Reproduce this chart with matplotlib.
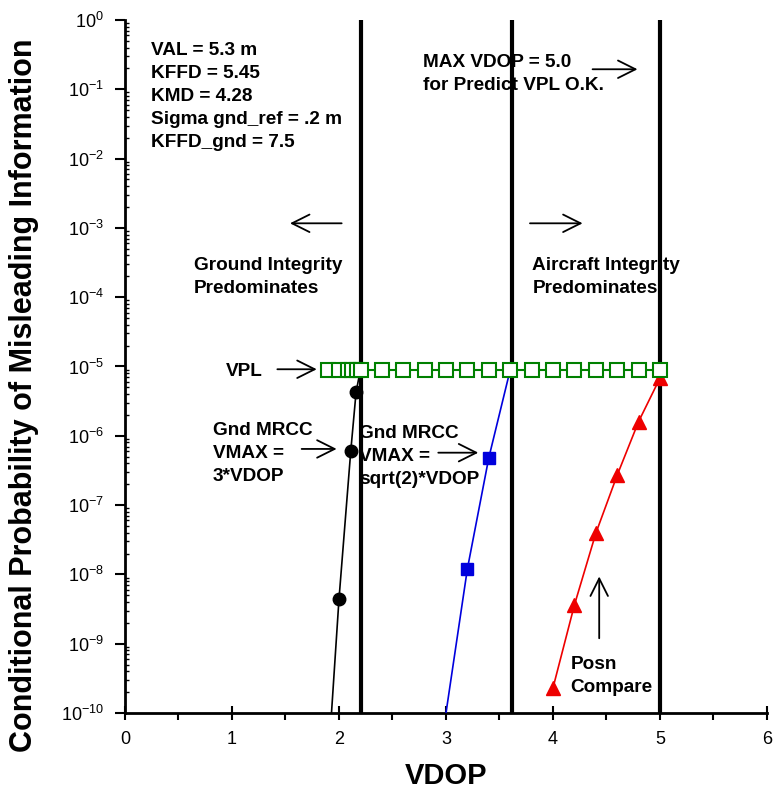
import numpy as np
import matplotlib
matplotlib.use("Agg")
import matplotlib.pyplot as plt
from matplotlib.ticker import LogLocator, MultipleLocator

# data
vpl_x = [1.9, 2.0, 2.08, 2.12, 2.17, 2.21, 2.4, 2.6, 2.8, 3.0, 3.2, 3.4,
         3.6, 3.8, 4.0, 4.2, 4.4, 4.6, 4.8, 5.0]
vpl_y = [8.9e-6] * len(vpl_x)

gnd3_line_x = [1.93, 2.0, 2.11, 2.16, 2.2]
gnd3_line_y = [1e-10, 4.4e-9, 6.0e-7, 4.3e-6, 8.9e-6]
gnd3_x = [2.0, 2.11, 2.16]
gnd3_y = [4.4e-9, 6.0e-7, 4.3e-6]

gnds2_line_x = [3.0, 3.2, 3.4, 3.6]
gnds2_line_y = [1e-10, 1.2e-8, 4.8e-7, 8.9e-6]
gnds2_x = [3.2, 3.4]
gnds2_y = [1.2e-8, 4.8e-7]

posn_x = [4.0, 4.2, 4.4, 4.6, 4.8, 5.0]
posn_y = [2.3e-10, 3.6e-9, 3.9e-8, 2.7e-7, 1.6e-6, 6.8e-6]

vlines_x = [2.21, 3.62, 5.0]

params_text = ("VAL = 5.3 m\nKFFD = 5.45\nKMD = 4.28\n"
               "Sigma gnd_ref = .2 m\nKFFD_gnd = 7.5")

bold = dict(family=["Liberation Sans", "DejaVu Sans"], fontweight="bold",
            fontsize=13.7, linespacing=1.47)
narrow = ["Liberation Sans Narrow", "Liberation Sans", "DejaVu Sans"]

fig = plt.figure(figsize=(7.73, 7.9), dpi=100)
ax = fig.add_axes([0.1617, 0.0975, 0.8305, 0.8772])

ax.set_yscale("log")
ax.set_xlim(0, 6)
ax.set_ylim(1e-10, 1)

for xv in vlines_x:
    ax.axvline(xv, color="black", lw=3, zorder=2)

ax.plot(vpl_x, vpl_y, color="green", lw=1.5, marker="s", ms=9.5,
        mfc="white", mec="green", mew=1.5, zorder=4)
ax.plot(gnd3_line_x, gnd3_line_y, color="black", lw=1.2, zorder=3)
ax.plot(gnd3_x, gnd3_y, ls="none", marker="o", ms=9, color="black", zorder=3)
ax.plot(gnds2_line_x, gnds2_line_y, color="#0000dd", lw=1.2, zorder=3)
ax.plot(gnds2_x, gnds2_y, ls="none", marker="s", ms=9, color="#0000dd",
        zorder=3)
ax.plot(posn_x, posn_y, color="#ee0000", lw=1.2, marker="^", ms=10,
        zorder=3)

# annotations
ax.text(0.243, 10 ** -0.317, params_text, ha="left", va="top", **bold)
ax.text(2.785, 10 ** -0.49, "MAX VDOP = 5.0\nfor Predict VPL O.K.",
        ha="left", va="top", **bold)
ax.text(0.645, 10 ** -3.424, "Ground Integrity\nPredominates",
        ha="left", va="top", **bold)
ax.text(3.807, 10 ** -3.424, "Aircraft Integrity\nPredominates",
        ha="left", va="top", **bold)
ax.text(0.941, 10 ** -4.954, "VPL", ha="left", va="top", **bold)
ax.text(0.82, 10 ** -5.797, "Gnd MRCC\nVMAX =\n3*VDOP",
        ha="left", va="top", **bold)
ax.text(2.19, 10 ** -5.844, "Gnd MRCC\nVMAX =\nsqrt(2)*VDOP",
        ha="left", va="top", **bold)
ax.text(4.165, 10 ** -9.177, "Posn\nCompare", ha="left", va="top", **bold)

arrow = dict(arrowstyle="->,head_length=0.7,head_width=0.35", lw=1.3,
             color="black", shrinkA=0, shrinkB=0, mutation_scale=18)
arrows = [
    ((4.37, 10 ** -0.711), (4.79, 10 ** -0.711)),
    ((2.025, 10 ** -2.934), (1.542, 10 ** -2.934)),
    ((3.785, 10 ** -2.934), (4.277, 10 ** -2.934)),
    ((1.424, 10 ** -5.04), (1.792, 10 ** -5.04)),
    ((1.651, 10 ** -6.19), (1.978, 10 ** -6.19)),
    ((2.928, 10 ** -6.244), (3.302, 10 ** -6.244)),
    ((4.432, 10 ** -8.922), (4.432, 10 ** -8.03)),
]
for start, end in arrows:
    ax.annotate("", xy=end, xytext=start, arrowprops=arrow)

# axes styling
ax.spines["top"].set_visible(False)
ax.spines["right"].set_visible(False)
ax.spines["left"].set_linewidth(2)
ax.spines["bottom"].set_linewidth(2)

ax.yaxis.set_major_locator(LogLocator(base=10, numticks=20))
ax.yaxis.set_minor_locator(LogLocator(base=10, subs=np.arange(2, 10),
                                      numticks=200))
ax.xaxis.set_major_locator(MultipleLocator(1))
ax.xaxis.set_minor_locator(MultipleLocator(0.5))

ax.tick_params(axis="y", which="major", direction="out", length=7, width=1.5,
               pad=8)
ax.tick_params(axis="y", which="minor", direction="in", length=3, width=1)
ax.tick_params(axis="x", which="major", direction="inout", length=10,
               width=1.5, pad=8)
ax.tick_params(axis="x", which="minor", direction="out", length=5, width=1.5)

for lab in ax.get_xticklabels() + ax.get_yticklabels():
    lab.set_family(narrow)
    lab.set_fontsize(13)

ax.set_xlabel("VDOP", family=narrow, fontweight="bold", fontsize=21,
              labelpad=10)
ax.set_ylabel("Conditional Probability of Misleading Information",
              family=narrow, fontweight="bold", fontsize=22)
ax.yaxis.set_label_coords(-0.134, 0.459)

fig.savefig("out.png", dpi=100)
